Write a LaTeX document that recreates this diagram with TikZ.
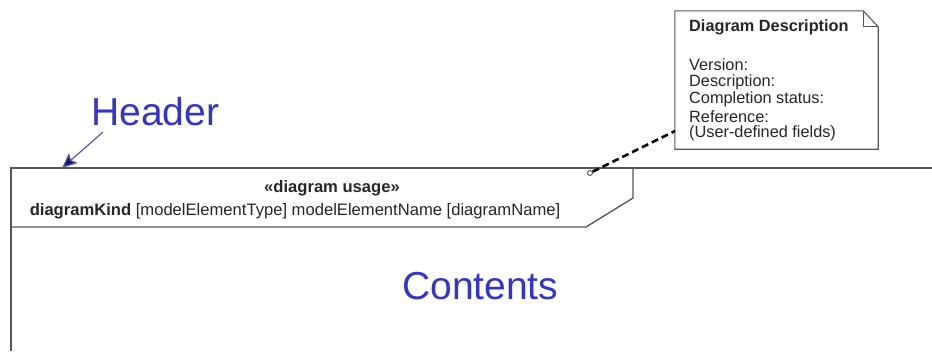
\documentclass[tikz,border=0pt]{standalone}
\usepackage{fontspec}
\setmainfont{Liberation Sans}
\usetikzlibrary{arrows.meta}
\definecolor{lbl}{RGB}{52,52,200}
\definecolor{frm}{RGB}{85,85,85}
\definecolor{navy}{RGB}{20,20,110}
\definecolor{arrln}{RGB}{90,90,160}
\tikzset{
  frameline/.style={draw=frm, line width=1.3pt},
  bigtext/.style={text=lbl, font=\fontsize{39}{41}\selectfont, inner sep=0pt},
  smalltext/.style={font=\fontsize{16.6}{19}\selectfont, inner sep=0pt, text=black!85},
  notetext/.style={font=\fontsize{16.3}{19}\selectfont, inner sep=0pt, text=black!85, anchor=west},
  noteline/.style={draw=frm, line width=1.1pt},
  anchorconn/.style={draw=black, line width=2.6pt, dash pattern=on 7pt off 4pt},
  hdrarrow/.style={draw=arrln, line width=1.2pt, -{Stealth[length=15pt,width=13pt,inset=3pt,fill=navy]}}
}
\begin{document}
\begin{tikzpicture}[x=1pt,y=-1pt]
\useasboundingbox[fill=white] (0,0) rectangle (932,351);
% frame
\draw[frameline] (11,351) -- (11,168) -- (932,168);
\draw[frameline] (633,168) -- (633,198) -- (586,227) -- (11,227);
% header texts
\node[smalltext, font=\fontsize{16.6}{19}\selectfont\bfseries] (usage) at (332,188) {«diagram usage»};
\node[smalltext] (kind) at (295,211) {\textbf{diagramKind} [modelElementType] modelElementName [diagramName]};
% labels
\node[bigtext, anchor=base west] (hdr) at (91,125) {Header};
\node[bigtext, anchor=base west] (cont) at (402,299) {Contents};
\coordinate (hdrtail) at (103,132);
\coordinate (hdrtip) at (62,168);
\draw[hdrarrow] (hdrtail) -- (hdrtip);
% note
\node[minimum width=203pt, minimum height=138pt, inner sep=0pt] (note) at (776.5,80) {};
\draw[noteline, fill=white] (note.north west) -- ([xshift=-15pt]note.north east) -- ([yshift=-16pt]note.north east) -- (note.south east) -- (note.south west) -- cycle;
\draw[noteline] ([xshift=-15pt]note.north east) -- ([xshift=-15pt,yshift=-16pt]note.north east) -- ([yshift=-16pt]note.north east);
\node[notetext, font=\fontsize{16.3}{19}\selectfont\bfseries] (ntitle) at (689,27) {Diagram Description};
\node[notetext] (n1) at (689,64.5) {Version:};
\node[notetext] (n2) at (689,81.8) {Description:};
\node[notetext] (n3) at (689,99) {Completion status:};
\node[notetext] (n4) at (689,116.3) {Reference:};
\node[notetext] (n5) at (689,133.6) {(User-defined fields)};
% anchor line
\node[circle, draw=frm, line width=0.9pt, inner sep=0pt, minimum size=5pt] (ring) at (590,173) {};
\coordinate (noteend) at (675,131);
\draw[anchorconn] (ring) -- (noteend);
\end{tikzpicture}
\end{document}
